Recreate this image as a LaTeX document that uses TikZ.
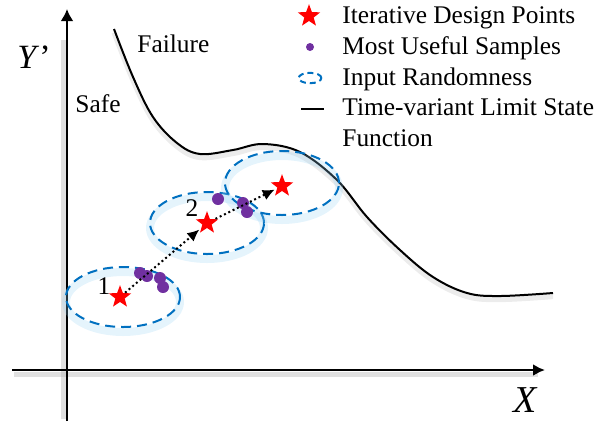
\documentclass[tikz,border=0pt]{standalone}
\usepackage{fontspec}
\setmainfont{Liberation Serif}
\usepackage{xcolor}
\usepackage{tikz}
\usetikzlibrary{shapes.geometric,arrows.meta}

\definecolor{ptred}{RGB}{255,0,0}
\definecolor{smppurple}{RGB}{112,48,160}
\definecolor{randblue}{RGB}{0,112,192}
\definecolor{glowblue}{RGB}{150,210,245}

% limit state function
\newcommand{\lsfcurve}{plot[smooth,tension=0.6] coordinates {(114,29) (133,77) (153,117) (177,143) (200,154) (233,150) (263,144) (300,152) (337,180) (367,217) (400,250) (433,277) (467,293) (500,296) (553,293)}}

\tikzset{
	design/.style={star,star points=5,star point ratio=2.4,fill=ptred,minimum size=11.8pt,inner sep=0pt},
	sample/.style={circle,fill=smppurple,minimum size=6pt,inner sep=0pt},
	rand/.style={draw=randblue,line width=1pt,dash pattern=on 5pt off 3pt},
	glow/.style={draw=glowblue,line width=4pt,opacity=0.25},
	shade/.style={draw=black!30,line width=2.5pt,opacity=0.4},
	txt/.style={font=\fontsize{12.7}{15}\selectfont,inner sep=0pt},
}

\begin{document}
\begin{tikzpicture}[x=0.5pt,y=-0.5pt]
		\useasboundingbox (0,0) rectangle (598,425);
		%
		% axes
		\coordinate (xo) at (12,370);
		\coordinate (xe) at (545,370);
		\coordinate (yo) at (67,421);
		\coordinate (ye) at (67,9);
		\draw[shade] (14,374) -- (538,374);
		\draw[shade] (63,419) -- (63,40);
		\draw[line width=1.2pt,-{Latex[length=6pt,width=6pt]}] (xo) -- (xe);
		\draw[line width=1.2pt,-{Latex[length=6pt,width=6.5pt]}] (yo) -- (ye);
		\node[font=\fontsize{19}{20}\selectfont\itshape,inner sep=0pt,anchor=base] (xl) at (525,412) {X};
		\node[font=\fontsize{17}{20}\selectfont,inner sep=0pt,anchor=base west] (yl) at (17,68) {\textit{Y}’};
		%
		% limit state
		\draw[shade,line width=2.5pt,opacity=0.25,yshift=-1.8pt] \lsfcurve;
		\draw[line width=1pt] \lsfcurve;
		\node[txt,anchor=base west] (fail) at (137,52) {Failure};
		\node[txt,anchor=base west] (safe) at (75,112) {Safe};
		%
		% input randomness
		\foreach \cx/\cy/\ry in {123/297/15, 207/223/15.5, 282/183/16}{
			\draw[glow] (\cx,\cy+5) ellipse [x radius=28.5pt, y radius=\ry pt];
			\draw[rand] (\cx,\cy) ellipse [x radius=28.5pt, y radius=\ry pt];
		}
		%
		% samples
		\node[sample] (m1) at (140,273) {};
		\node[sample] (m2) at (147,276) {};
		\node[sample] (m3) at (160,278) {};
		\node[sample] (m4) at (163,287) {};
		\node[sample] (m5) at (218,199) {};
		\node[sample] (m6) at (243,203) {};
		\node[sample] (m7) at (247,212) {};
		%
		% design points
		\node[design] (s1) at (120,297) {};
		\node[design] (s2) at (207,223) {};
		\node[design] (s3) at (282,186) {};
		\node[txt,anchor=base] (n1) at (104,294) {1};
		\node[txt,anchor=base] (n2) at (192,216) {2};
		\path[line width=1pt,dash pattern=on 1pt off 1.4pt,-{Latex[length=6pt,width=5.5pt]},shorten >=1pt]
		(s1) edge (s2)
		(s2) edge (s3);
		%
		% legend
		\node[design] (ls) at (309,16) {};
		\node[sample,minimum size=4pt] (lm) at (310,47) {};
		\draw[randblue,line width=1pt,dash pattern=on 3pt off 2pt] (310,78) ellipse [x radius=5.7pt, y radius=2.6pt];
		\coordinate (la) at (301,109);
		\coordinate (lb) at (324,109);
		\draw[line width=1.4pt] (la) -- (lb);
		\node[txt,anchor=base west] (l1) at (342,23) {Iterative Design Points};
		\node[txt,anchor=base west] (l2) at (342,54) {Most Useful Samples};
		\node[txt,anchor=base west] (l3) at (342,85) {Input Randomness};
		\node[txt,anchor=base west] (l4) at (342,115) {Time-variant Limit State};
		\node[txt,anchor=base west] (l5) at (342,146) {Function};
\end{tikzpicture}
\end{document}
